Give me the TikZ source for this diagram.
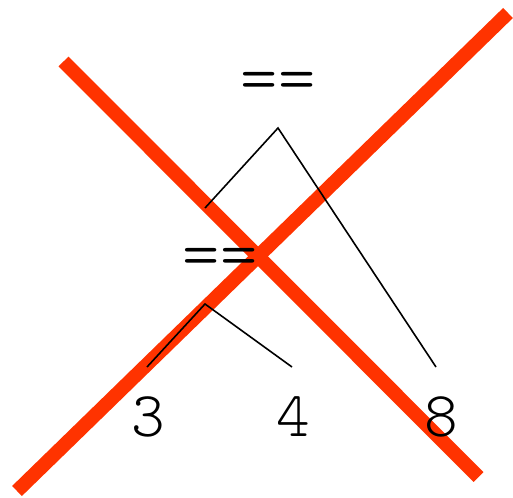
\documentclass[tikz,border=0pt]{standalone}
\usepackage{xcolor}
\definecolor{crossred}{RGB}{255,51,0}

\begin{document}
\begin{tikzpicture}[x=1pt,y=-1pt,
    lbl/.style={inner sep=0pt, font=\fontsize{64}{64}\fontseries{l}\ttfamily},
    oplbl/.style={lbl, font=\fontsize{71}{71}\fontseries{l}\ttfamily},
    branch/.style={line width=1.6pt},
    cross/.style={crossred, line width=14pt}]
  \useasboundingbox (0,0) rectangle (513,497);

  % Strike-through
  \draw[cross] (63.5,61.5) -- (478.5,477);
  \draw[cross] (17,491) -- (508,13);

  % Labels
  \node[oplbl] (eqA) at (278,87) {==};
  \node[oplbl] (eqB) at (220,263) {==};
  \node[lbl] (n3) at (148,417) {3};
  \node[lbl] (n4) at (293,417) {4};
  \node[lbl] (n8) at (441,417) {8};

  % Branch points
  \coordinate (tA) at (278,128);
  \coordinate (tB) at (205,304);
  \coordinate (eB) at (205,208);
  \coordinate (e3) at (147,367);
  \coordinate (e4) at (292,367);
  \coordinate (e8) at (436,367);

  % Tree
  \draw[branch] (eB) -- (tA) -- (e8);
  \draw[branch] (e3) -- (tB) -- (e4);
\end{tikzpicture}
\end{document}
